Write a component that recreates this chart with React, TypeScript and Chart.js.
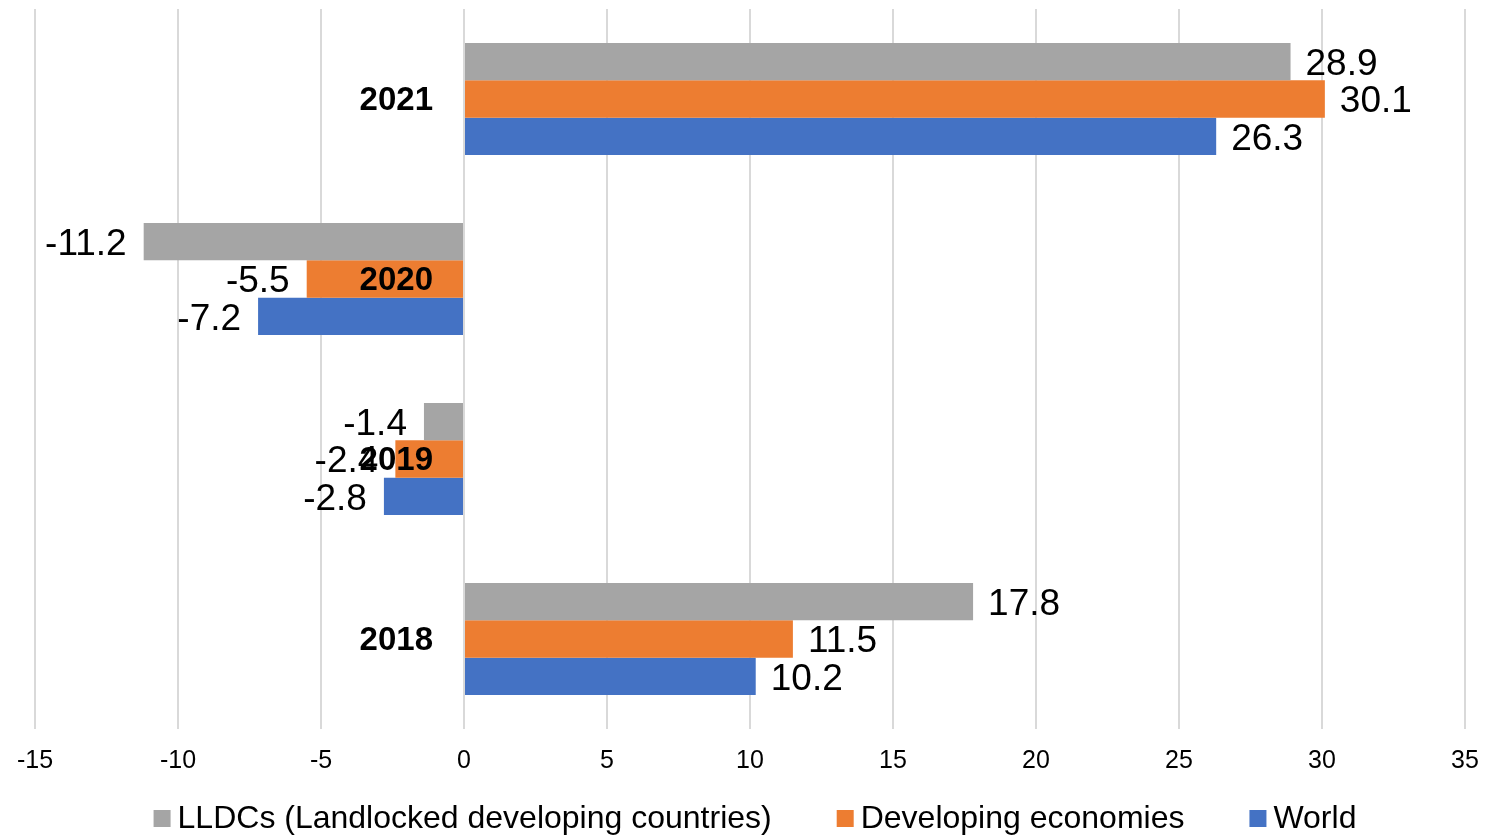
import React, { useEffect, useRef } from "react";
import { Chart, registerables } from "chart.js";

Chart.register(...registerables);

const categories = ["2021", "2020", "2019", "2018"];
const lldcValues = [28.9, -11.2, -1.4, 17.8];
const developingValues = [30.1, -5.5, -2.4, 11.5];
const worldValues = [26.3, -7.2, -2.8, 10.2];
const seriesNames = ["LLDCs (Landlocked developing countries)", "Developing economies", "World"];
const seriesColors = ["#A5A5A5", "#ED7D31", "#4472C4"];
const xMin = -15;
const xMax = 35;
const xStep = 5;

const FONT = "'Liberation Sans', Arial, sans-serif";

const valueLabelPlugin = {
  id: "valueLabels",
  afterDatasetsDraw(chart: any) {
    const ctx = chart.ctx;
    ctx.save();
    ctx.font = `37px ${FONT}`;
    ctx.fillStyle = "#000000";
    ctx.textBaseline = "middle";
    chart.data.datasets.forEach((ds: any, di: number) => {
      const meta = chart.getDatasetMeta(di);
      meta.data.forEach((bar: any, i: number) => {
        const v = ds.data[i];
        const text = String(v);
        if (v >= 0) {
          ctx.textAlign = "left";
          ctx.fillText(text, bar.x + 15, bar.y + 3);
        } else {
          ctx.textAlign = "right";
          ctx.fillText(text, bar.x - 17, bar.y + 3);
        }
      });
    });
    // category labels next to the zero line
    const xs = chart.scales.x;
    const ys = chart.scales.y;
    const zeroX = xs.getPixelForValue(0);
    ctx.font = `bold 33px ${FONT}`;
    ctx.textAlign = "right";
    chart.data.labels.forEach((lab: string, i: number) => {
      ctx.fillText(lab, zeroX - 31, ys.getPixelForTick(i) + 2);
    });
    ctx.restore();
  },
};

const legendPlugin = {
  id: "customLegend",
  afterDraw(chart: any) {
    const ctx = chart.ctx;
    ctx.save();
    ctx.font = `32px ${FONT}`;
    ctx.textBaseline = "middle";
    ctx.textAlign = "left";
    const box = 17;
    const boxGap = 7;
    const itemGap = 65;
    const items = chart.data.datasets.map((ds: any) => ({
      label: ds.label,
      color: ds.backgroundColor,
      w: box + boxGap + ctx.measureText(ds.label).width,
    }));
    const total = items.reduce((s: number, it: any) => s + it.w, 0) + itemGap * (items.length - 1);
    let x = (chart.width - total) / 2 + 12;
    const y = 818;
    items.forEach((it: any) => {
      ctx.fillStyle = it.color;
      ctx.fillRect(x, y - 8, box, box);
      ctx.fillStyle = "#000000";
      ctx.fillText(it.label, x + box + boxGap, y + 1);
      x += it.w + itemGap;
    });
    ctx.restore();
  },
};

export default function App() {
  const canvasRef = useRef<HTMLCanvasElement | null>(null);

  useEffect(() => {
    if (!canvasRef.current) return;
    const chart = new Chart(canvasRef.current, {
      type: "bar",
      data: {
        labels: categories,
        datasets: [
          { label: seriesNames[0], data: lldcValues, backgroundColor: seriesColors[0] },
          { label: seriesNames[1], data: developingValues, backgroundColor: seriesColors[1] },
          { label: seriesNames[2], data: worldValues, backgroundColor: seriesColors[2] },
        ],
      },
      options: {
        indexAxis: "y",
        animation: false,
        responsive: true,
        maintainAspectRatio: false,
        layout: { padding: { left: 35, right: 21, top: 9, bottom: 0 } },
        datasets: { bar: { categoryPercentage: 0.622, barPercentage: 1.0 } },
        plugins: {
          legend: { display: false },
          tooltip: { enabled: false },
          title: { display: false },
        },
        scales: {
          x: {
            type: "linear",
            min: xMin,
            max: xMax,
            position: "bottom",
            afterFit: (scale: any) => {
              scale.height = 106;
              scale.paddingLeft = 0;
              scale.paddingRight = 0;
            },
            ticks: {
              stepSize: xStep,
              color: "#000000",
              font: { family: FONT, size: 25 },
              padding: 17,
              maxRotation: 0,
            },
            grid: { color: "#D9D9D9", lineWidth: 2, drawTicks: false },
            border: { display: false },
          },
          y: {
            type: "category",
            display: false,
          },
        },
      },
      plugins: [valueLabelPlugin, legendPlugin],
    });
    return () => chart.destroy();
  }, []);

  return (
    <div style={{ position: "fixed", left: 0, top: 0, width: 1486, height: 835, background: "#ffffff" }}>
      <canvas ref={canvasRef} />
    </div>
  );
}
